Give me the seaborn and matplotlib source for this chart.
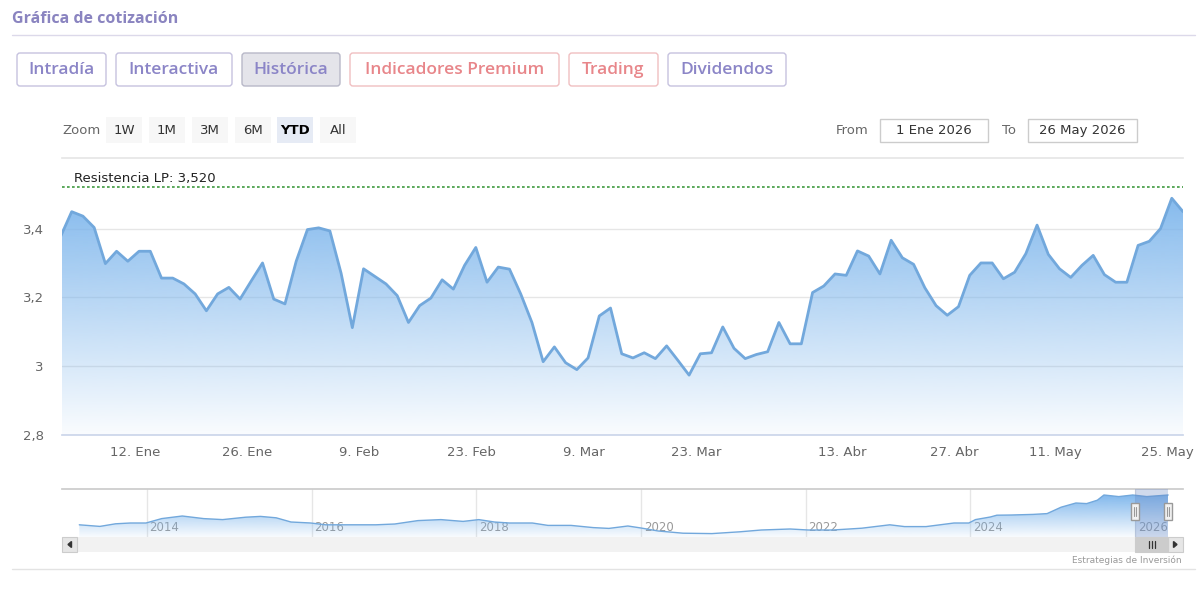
import numpy as np
import pandas as pd
import matplotlib
matplotlib.use("Agg")
import matplotlib.pyplot as plt
import matplotlib.transforms as mtransforms
import seaborn as sns
from matplotlib.patches import FancyBboxPatch, Rectangle
from matplotlib.ticker import FuncFormatter

# --- Data ---
start_date = "2025-12-31"
end_date = "2026-05-26"
market_holidays = ["2026-01-01", "2026-04-03", "2026-04-06", "2026-05-01"]

# daily closes, one per trading day from 31 Dec 2025 to 26 May 2026
close_prices = [
    3.376, 3.449, 3.436, 3.403, 3.298, 3.334, 3.305, 3.334, 3.334, 3.256,
    3.256, 3.239, 3.210, 3.161, 3.210, 3.229, 3.195, 3.248, 3.300, 3.195,
    3.181, 3.305, 3.397, 3.402, 3.393, 3.270, 3.112, 3.283, 3.261, 3.239,
    3.205, 3.127, 3.176, 3.198, 3.251, 3.224, 3.293, 3.345, 3.244, 3.288,
    3.282, 3.210, 3.127, 3.013, 3.056, 3.010, 2.990, 3.024, 3.146, 3.169,
    3.036, 3.024, 3.039, 3.022, 3.059, 3.017, 2.974, 3.036, 3.039, 3.114,
    3.052, 3.022, 3.034, 3.042, 3.127, 3.065, 3.065, 3.214, 3.233, 3.268,
    3.264, 3.335, 3.320, 3.268, 3.366, 3.315, 3.296, 3.228, 3.176, 3.148,
    3.173, 3.264, 3.300, 3.300, 3.254, 3.273, 3.327, 3.410, 3.325, 3.283,
    3.258, 3.293, 3.322, 3.266, 3.244, 3.244, 3.351, 3.363, 3.400, 3.488,
    3.449,
]
resistance_lp = 3.52

tick_dates = ["2026-01-12", "2026-01-26", "2026-02-09", "2026-02-23", "2026-03-09",
              "2026-03-23", "2026-04-13", "2026-04-27", "2026-05-11", "2026-05-25"]
tick_labels = ["12. Ene", "26. Ene", "9. Feb", "23. Feb", "9. Mar",
               "23. Mar", "13. Abr", "27. Abr", "11. May", "25. May"]
y_ticks = [2.8, 3.0, 3.2, 3.4]

# navigator: long history (fractional year, price)
nav_years = [2013.18, 2013.43, 2013.62, 2013.80, 2013.99, 2014.18, 2014.43, 2014.69, 2014.92,
             2015.20, 2015.38, 2015.57, 2015.75, 2015.99, 2016.17, 2016.45, 2016.78, 2017.01,
             2017.29, 2017.57, 2017.84, 2018.03, 2018.22, 2018.40, 2018.68, 2018.87, 2019.15,
             2019.42, 2019.61, 2019.84, 2020.00, 2020.21, 2020.51, 2020.86, 2021.20, 2021.46,
             2021.81, 2022.03, 2022.33, 2022.68, 2023.02, 2023.20, 2023.46, 2023.80, 2023.98,
             2024.06, 2024.24, 2024.32, 2024.50, 2024.76, 2024.93, 2025.10, 2025.28, 2025.41,
             2025.54, 2025.62, 2025.80, 2025.97, 2026.14, 2026.40]
nav_prices = [1.96, 1.88, 2.01, 2.05, 2.05, 2.27, 2.40, 2.27, 2.22,
              2.34, 2.38, 2.31, 2.10, 2.05, 1.96, 1.96, 1.96, 2.00,
              2.17, 2.22, 2.13, 2.22, 2.10, 2.05, 2.05, 1.93, 1.93,
              1.82, 1.78, 1.90, 1.80, 1.65, 1.54, 1.52, 1.61, 1.70,
              1.75, 1.70, 1.70, 1.79, 1.96, 1.87, 1.87, 2.05, 2.05,
              2.22, 2.35, 2.44, 2.45, 2.48, 2.52, 2.84, 3.05, 3.02,
              3.19, 3.45, 3.37, 3.45, 3.37, 3.45]
nav_year_ticks = [2014, 2016, 2018, 2020, 2022, 2024, 2026]

page_buttons = ["Intradía", "Interactiva", "Histórica", "Indicadores Premium", "Trading", "Dividendos"]
zoom_buttons = ["1W", "1M", "3M", "6M", "YTD", "All"]

# --- Style ---
sns.set_theme(style="white")
plt.rcParams["font.family"] = ["DejaVu Sans"]
W, H = 1200, 589
LINE = "#72a8dc"
FILL = np.array([124, 181, 236]) / 255
GREY_TXT = "#666666"


def frac(x0, y0, x1, y1):
    """pixel box (top-left origin) -> figure fraction rect"""
    return [x0 / W, 1 - y1 / H, (x1 - x0) / W, (y1 - y0) / H]


def gradient_area(ax, x, y, base, a_top, a_bot, z=2):
    poly = ax.fill_between(x, y, base, facecolor="none", edgecolor="none")
    img = np.zeros((256, 1, 4))
    img[:, 0, :3] = FILL
    img[:, 0, 3] = np.linspace(a_top, a_bot, 256)
    im = ax.imshow(img, extent=[np.min(x), np.max(x), base, np.max(y)],
                   aspect="auto", origin="upper", zorder=z, interpolation="bilinear")
    im.set_clip_path(poly.get_paths()[0], ax.transData)


fig = plt.figure(figsize=(W / 100, H / 100), dpi=100)

# --- trading day axis (ordinal, weekends/holidays skipped) ---
days = pd.bdate_range(start_date, end_date)
days = days[~days.isin(pd.to_datetime(market_holidays))]
pos = np.arange(len(days)) - 1
df = pd.DataFrame({"pos": pos, "close": close_prices})

# --- main chart ---
ax = fig.add_axes(frac(62, 158, 1183, 435))
ax.set_facecolor("none")
gradient_area(ax, df["pos"].values, df["close"].values, 2.8, 0.92, 0.04)
sns.lineplot(data=df, x="pos", y="close", ax=ax, color=LINE, linewidth=2, zorder=3)
ax.axhline(resistance_lp, color="#3f9a3f", lw=1.2, ls=(0, (1.6, 1.4)), zorder=4)
blend = mtransforms.blended_transform_factory(ax.transAxes, ax.transData)
ax.text(0.011, resistance_lp + 0.006, f"Resistencia LP: {resistance_lp:.3f}".replace(".", ","),
        transform=blend, fontsize=9.5, color="#222222", va="bottom", ha="left")

ax.set_xlim(-0.864, pos[-1])
ax.set_ylim(2.8, 3.605)
ax.set_yticks(y_ticks)
ax.yaxis.set_major_formatter(FuncFormatter(lambda v, _: f"{v:g}".replace(".", ",")))
tick_pos = [days.get_loc(pd.Timestamp(d)) - 1 - 0.36 for d in tick_dates]
ax.set_xticks(tick_pos)
ax.set_xticklabels(tick_labels)
ax.set_xlabel("")
ax.set_ylabel("")
ax.grid(axis="y", color="#e6e6e6", lw=1)
ax.set_axisbelow(True)
for s in ["left", "right"]:
    ax.spines[s].set_visible(False)
ax.spines["top"].set_color("#e6e6e6")
ax.spines["bottom"].set_color("#ccd6eb")
ax.tick_params(axis="x", length=7, width=1, color="#ccd6eb", pad=1, labelsize=9.5, labelcolor=GREY_TXT)
ax.tick_params(axis="y", length=0, pad=13, labelsize=9.5, labelcolor=GREY_TXT)

# --- navigator ---
nav = fig.add_axes(frac(62, 489, 1183, 537))
nav.set_facecolor("none")
ndf = pd.DataFrame({"year": nav_years, "price": nav_prices})
gradient_area(nav, ndf["year"].values, ndf["price"].values, 1.35, 0.95, 0.05)
sns.lineplot(data=ndf, x="year", y="price", ax=nav, color=LINE, linewidth=1, zorder=3)
nav.set_xlim(2012.97, 2026.58)
nav.set_ylim(1.35, 3.75)
nav.set_xticks(nav_year_ticks)
nav.set_xticklabels([])
nav.set_yticks([])
nav.set_xlabel("")
nav.set_ylabel("")
nav.grid(axis="x", color="#e6e6e6", lw=1)
nav.set_axisbelow(True)
nav.tick_params(length=0)
for s in ["left", "right", "bottom"]:
    nav.spines[s].set_visible(False)
nav.spines["top"].set_color("#cccccc")
for yr in nav_year_ticks:
    nav.annotate(str(yr), xy=(yr, 0), xycoords=("data", "axes fraction"),
                 xytext=(2, 2), textcoords="offset points", ha="left", va="bottom",
                 fontsize=8.5, color="#999999", zorder=1)
sel_start = 2026 + (days[1].dayofyear - 2) / 365
sel_end = 2026 + (days[-1].dayofyear - 1) / 365
nav.axvspan(sel_start, sel_end, color=(102 / 255, 133 / 255, 194 / 255, 0.3), lw=0, zorder=4)

# --- page chrome (pixel coordinates) ---
ui = fig.add_axes([0, 0, 1, 1], zorder=10)
ui.set_xlim(0, W)
ui.set_ylim(H, 0)
ui.axis("off")
ui.patch.set_alpha(0)

ui.text(12, 19, "Gráfica de cotización", fontsize=11.5, color="#8a84c0", fontweight="bold",
        family=["Open Sans", "DejaVu Sans"], va="center", ha="left")
ui.plot([12, 1195], [35, 35], color="#dcd9ea", lw=1)
ui.plot([12, 1195], [569, 569], color="#e3e3e3", lw=1)

btn_x = [(17, 106), (116, 232), (242, 340), (350, 559), (569, 658), (668, 786)]
for label, (x0, x1) in zip(page_buttons, btn_x):
    salmon = label in ("Indicadores Premium", "Trading")
    txt = "#e8868a" if salmon else "#8b85c7"
    edge = "#f0bfc1" if salmon else "#c6c2df"
    face = "#e4e4ea" if label == "Histórica" else "white"
    if label == "Histórica":
        edge = "#b8b8c8"
    ui.add_patch(FancyBboxPatch((x0, 53), x1 - x0, 33, boxstyle="round,pad=0,rounding_size=3",
                                facecolor=face, edgecolor=edge, lw=1))
    ui.text((x0 + x1) / 2, 70, label, fontsize=12.5, color=txt, fontweight="semibold",
            family=["Open Sans", "DejaVu Sans"], ha="center", va="center")

ui.text(62, 130, "Zoom", fontsize=9.5, color=GREY_TXT, va="center", ha="left")
zx = [(106, 142), (149, 185), (192, 228), (235, 271), (277, 313), (320, 356)]
for label, (x0, x1) in zip(zoom_buttons, zx):
    active = label == "YTD"
    ui.add_patch(Rectangle((x0, 117), x1 - x0, 26, facecolor="#e6ebf5" if active else "#f7f7f7",
                           edgecolor="none"))
    ui.text((x0 + x1) / 2, 130, label, fontsize=9.5, color="#000000" if active else "#333333",
            fontweight="bold" if active else "normal", ha="center", va="center")

ui.text(836, 130, "From", fontsize=9.5, color=GREY_TXT, va="center", ha="left")
ui.text(1002, 130, "To", fontsize=9.5, color=GREY_TXT, va="center", ha="left")
mes = {1: "Ene", 2: "Feb", 3: "Mar", 4: "Abr", 5: "May"}
for (x0, x1), d in zip([(880, 988), (1028, 1137)], [pd.Timestamp("2026-01-01"), days[-1]]):
    ui.add_patch(Rectangle((x0, 119), x1 - x0, 23, facecolor="white", edgecolor="#cccccc", lw=1))
    ui.text((x0 + x1) / 2, 130.5, f"{d.day} {mes[d.month]} {d.year}", fontsize=9.5,
            color="#333333", ha="center", va="center")


# navigator handles + scrollbar
def to_px(axes, x, y):
    dx, dy = axes.transData.transform((x, y))
    return dx, H - dy


hx0, _ = to_px(nav, sel_start, 2)
hx1, _ = to_px(nav, sel_end, 2)
for hx in (hx0, hx1):
    ui.add_patch(Rectangle((hx - 4, 503), 8, 17, facecolor="#f2f2f2", edgecolor="#999999", lw=1))
    ui.plot([hx - 1.2, hx - 1.2], [507, 516], color="#999999", lw=0.8)
    ui.plot([hx + 1.2, hx + 1.2], [507, 516], color="#999999", lw=0.8)

ui.add_patch(Rectangle((62, 537), 1121, 15, facecolor="#f2f2f2", edgecolor="none"))
ui.add_patch(Rectangle((62, 537), 15, 15, facecolor="#e6e6e6", edgecolor="#cccccc", lw=0.8))
ui.add_patch(Rectangle((1168, 537), 15, 15, facecolor="#e6e6e6", edgecolor="#cccccc", lw=0.8))
ui.add_patch(Rectangle((hx0, 537), hx1 - hx0, 15, facecolor="#cccccc", edgecolor="#cccccc", lw=0.8))
ui.fill([71.5, 68, 71.5], [541.5, 544.5, 547.5], color="#333333")
ui.fill([1173.5, 1177, 1173.5], [541.5, 544.5, 547.5], color="#333333")
cx = (hx0 + hx1) / 2
for dx in (-3, 0, 3):
    ui.plot([cx + dx, cx + dx], [541, 548], color="#333333", lw=0.9)

ui.text(1182, 560, "Estrategias de Inversión", fontsize=6.5, color="#999999", ha="right", va="center")

fig.savefig("out.png", dpi=100, facecolor="white")
